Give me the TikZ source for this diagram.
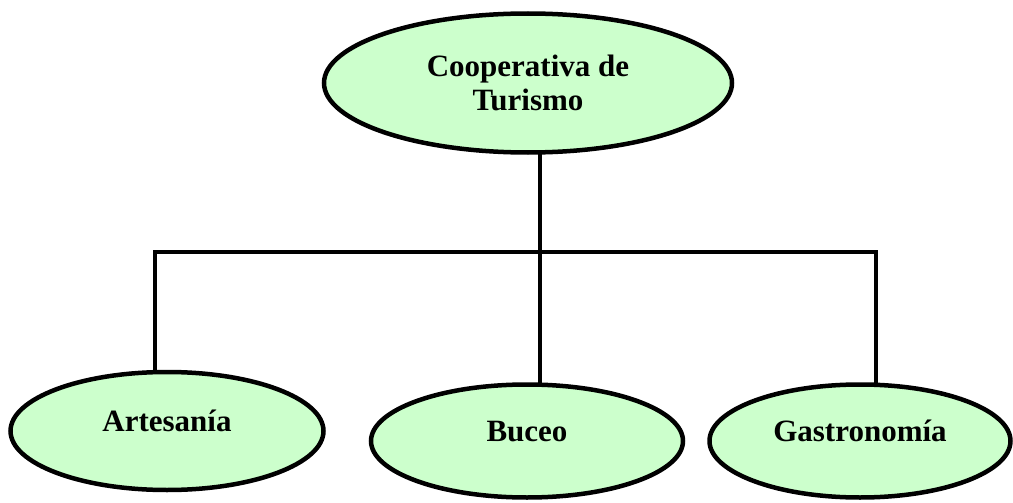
\documentclass[tikz,border=0pt]{standalone}
\usepackage{fontspec}
\setmainfont{Liberation Serif}
\usepackage{tikz}
\usetikzlibrary{
  shapes.geometric,
}
\definecolor{mintfill}{HTML}{CCFFCC}

\begin{document}
\begin{tikzpicture}[
  x=1pt, y=-1pt,
  unit/.style={
    ellipse,
    draw = black,
    line width = 4.5pt,
    fill = mintfill,
    font = \fontsize{31}{34}\selectfont\bfseries,
    align = center,
    inner sep = 0pt,
  },
  branch/.style={
    unit,
    text height = 21pt,
    text depth = 21pt,
  },
  link/.style={
    line width = 4pt,
  },
  ]
  \useasboundingbox (0,0) rectangle (1013,503);
  \coordinate (node-left) at (155,252);
  \coordinate (node-hub) at (540,252);
  \coordinate (node-right) at (876,252);
  % ramas
  \draw [link] (node-hub |- 0,150) -- (node-hub |- 0,386);
  \draw [link] (node-left |- 0,374) -- (node-left) -- (node-right)
  -- (node-right |- 0,386);
  \path
  node [unit, minimum width=408pt, minimum height=139pt, name=node-coop]
  at (528,83) {Cooperativa de\\Turismo}
  node [branch, minimum width=313pt, minimum height=118pt, name=node-art]
  at (167,431) {Artesanía}
  node [branch, minimum width=312pt, minimum height=113pt, name=node-buceo]
  at (527,441) {Buceo}
  node [branch, minimum width=301pt, minimum height=113pt, name=node-gastro]
  at (860,441) {Gastronomía};
\end{tikzpicture}
\end{document}
